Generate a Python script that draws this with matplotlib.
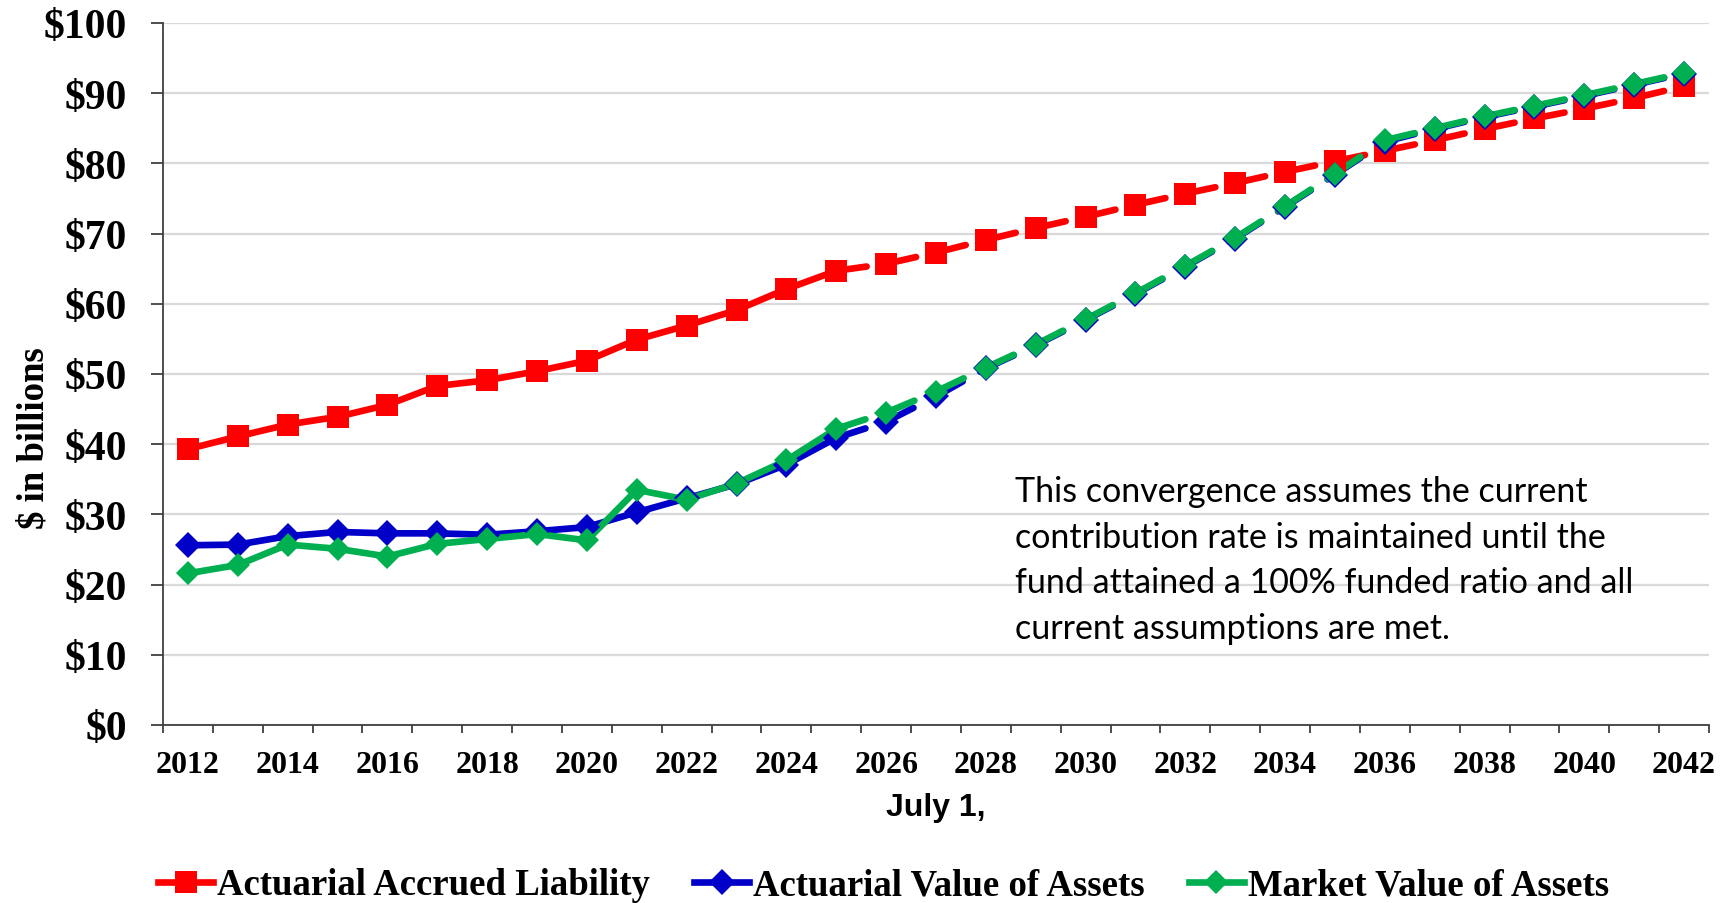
import matplotlib
matplotlib.use("Agg")
import matplotlib.pyplot as plt
from matplotlib.lines import Line2D
from matplotlib.patches import Rectangle
import numpy as np

years = list(range(2012, 2043))

# $ billions
liability = [39.3, 41.1, 42.8, 43.9, 45.6, 48.3, 49.1, 50.4, 51.9, 54.9,
             56.9, 59.1, 62.1, 64.7, 65.7, 67.3, 69.1, 70.8, 72.4, 74.1,
             75.7, 77.2, 78.8, 80.3, 81.8, 83.3, 84.9, 86.4, 87.8, 89.3, 91.0]
actuarial_assets = [25.6, 25.7, 26.9, 27.5, 27.3, 27.3, 27.1, 27.6, 28.2, 30.3,
                    32.3, 34.3, 37.1, 40.9, 43.2, 46.8, 50.8, 54.1, 57.7, 61.4,
                    65.3, 69.3, 73.8, 78.4, 83.1, 84.9, 86.6, 88.1, 89.6, 91.2, 92.8]
market_assets = [21.6, 22.8, 25.7, 25.1, 24.0, 25.8, 26.5, 27.2, 26.3, 33.5,
                 32.1, 34.4, 37.7, 42.2, 44.5, 47.5, 50.9, 54.2, 57.8, 61.5,
                 65.4, 69.4, 73.9, 78.5, 83.3, 85.0, 86.7, 88.2, 89.7, 91.3, 92.9]
last_actual = 2025  # solid up to here, dashed projection after

note = ("This convergence assumes the current\n"
        "contribution rate is maintained until the\n"
        "fund attained a 100% funded ratio and all\n"
        "current assumptions are met.")

SERIF = "Liberation Serif"
LW = 4.8
series = [
    ("Actuarial Accrued Liability", liability, "#ff0000", "s", 16.5),
    ("Actuarial Value of Assets", actuarial_assets, "#0000c8", "D", 13.5),
    ("Market Value of Assets", market_assets, "#00b050", "D", 11.8),
]

fig = plt.figure(figsize=(17.32, 9.04), dpi=100)
ax = fig.add_axes([163 / 1732, 1 - 726 / 904, 1546 / 1732, 702 / 904])

x = np.arange(len(years))
split = years.index(last_actual)
handles = []
for label, vals, color, marker, msize in series:
    vals = np.asarray(vals)
    ax.plot(x[:split + 1], vals[:split + 1], color=color, lw=LW,
            solid_capstyle="round", solid_joinstyle="round", zorder=3)
    # Excel-style dashes restart on every projected segment
    for i in range(split, len(x) - 1):
        ax.plot(x[i:i + 2], vals[i:i + 2], color=color, lw=LW,
                linestyle=(0, (4.6, 3.0)), dash_capstyle="round", zorder=3)
    ax.plot(x, vals, ls="none", marker=marker, ms=msize, color=color,
            mew=0, zorder=4)
    handles.append(Line2D([], [], color=color, lw=LW, marker=marker,
                          ms=msize, mew=0, label=label))

ax.set_xlim(-0.5, len(years) - 0.5)
ax.set_ylim(0, 100)
ax.set_yticks(range(0, 101, 10))
ax.set_yticklabels([f"${v}" for v in range(0, 101, 10)])
ax.set_xticks(x[::2])
ax.set_xticklabels([str(y) for y in years[::2]])
ax.set_xticks(np.arange(-0.5, len(years)), minor=True)

ax.grid(axis="y", color="#d9d9d9", lw=1.6, zorder=0)
for side in ("top", "right"):
    ax.spines[side].set_visible(False)
for side in ("left", "bottom"):
    ax.spines[side].set_color("#404040")
    ax.spines[side].set_linewidth(1.3)
ax.tick_params(axis="y", length=9, width=1.3, color="#404040", pad=17,
               labelsize=30)
ax.tick_params(axis="x", which="major", length=0, pad=18, labelsize=23)
ax.tick_params(axis="x", which="minor", length=6, width=1.3, color="#404040")
for t in ax.get_xticklabels() + ax.get_yticklabels():
    t.set_fontfamily(SERIF)
    t.set_fontweight("bold")

ax.set_xlabel("July 1,", fontsize=23, fontweight="bold",
              fontfamily="Liberation Sans")
ax.xaxis.set_label_coords(0.5, -0.095)
ax.set_ylabel("$ in billions", fontsize=26.5, fontweight="bold",
              fontfamily=SERIF)
ax.yaxis.set_label_coords(-0.072, 0.41)

# white note box hiding the gridlines behind it
ax.add_patch(Rectangle((16.2, 5), len(years) - 0.5 - 16.2, 33.5,
                       facecolor="white", edgecolor="none", zorder=1))
ax.text(16.58, 23.6, note, fontsize=24.5, fontfamily="Lato", va="center",
        ha="left", linespacing=1.52, zorder=2)

fig.legend(handles=handles, loc="center", bbox_to_anchor=(0.51, 0.02),
           ncol=3, frameon=False, handlelength=1.5, handletextpad=0.1,
           columnspacing=1.2, borderpad=0,
           prop={"family": SERIF, "weight": "bold", "size": 26.5})

fig.savefig("out.png", dpi=100)
